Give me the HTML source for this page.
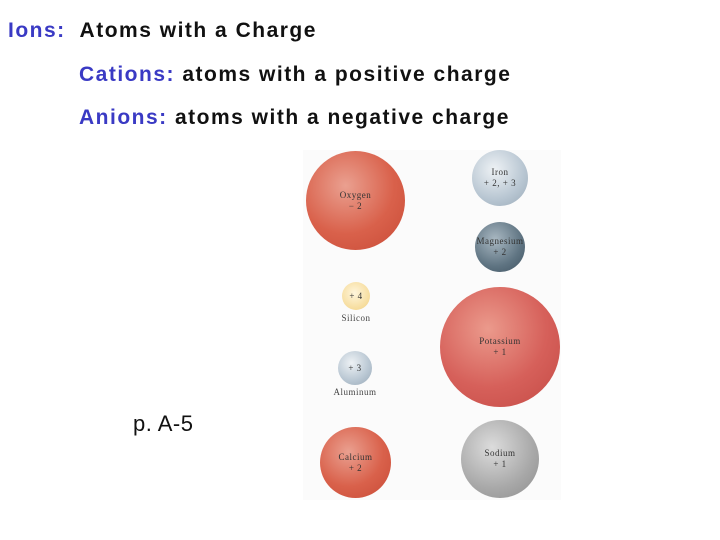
<!DOCTYPE html>
<html><head><meta charset="utf-8"><style>
body{margin:0;width:720px;height:540px;background:#fff;position:relative;overflow:hidden;font-family:"Liberation Sans",sans-serif}
.t{position:absolute;font-size:21px;font-weight:bold;color:#111;white-space:nowrap;line-height:24px;letter-spacing:1.5px}
.b{color:#3a3ac4}
.c{position:absolute;border-radius:50%;font-family:"Liberation Serif",serif;font-size:9px;color:#333;text-align:center;display:flex;flex-direction:column;justify-content:center;letter-spacing:0.5px;line-height:11px}
.lab{position:absolute;font-family:"Liberation Serif",serif;font-size:9px;color:#444;letter-spacing:0.5px;text-align:center;width:60px}
.red{background:radial-gradient(circle at 40% 35%,#eaa090,#d9614b 55%,#c84a36)}
.gr{background:radial-gradient(circle at 40% 35%,#eef2f5,#b8c6d2 60%,#98a8b6)}
</style></head><body>
<div class="t" style="left:8px;top:19px"><span class="b">Ions:</span>&nbsp; Atoms with a Charge</div>
<div class="t" style="left:79px;top:63px"><span class="b">Cations:</span> atoms with a positive charge</div>
<div class="t" style="left:79px;top:106px"><span class="b">Anions:</span> atoms with a negative charge</div>
<div style="position:absolute;left:133px;top:411px;font-size:22px;letter-spacing:0.5px;color:#111">p. A-5</div>
<div style="position:absolute;left:303px;top:150px;width:258px;height:350px;background:#fbfbfb"></div>
<div class="c red" style="left:306px;top:151px;width:99px;height:99px">Oxygen<br>− 2</div>
<div class="c gr" style="left:472px;top:150px;width:56px;height:56px">Iron<br>+ 2, + 3</div>
<div class="c" style="left:475px;top:222px;width:50px;height:50px;background:radial-gradient(circle at 40% 35%,#a9b8c2,#5f7482 60%,#3f5260)">Magnesium<br>+ 2</div>
<div class="c" style="left:342px;top:282px;width:28px;height:28px;background:radial-gradient(circle at 45% 40%,#fff6dc,#f6dc9c 70%,#e8c477)">+ 4</div>
<div class="lab" style="left:326px;top:313px">Silicon</div>
<div class="c gr" style="left:338px;top:351px;width:34px;height:34px">+ 3</div>
<div class="lab" style="left:325px;top:387px">Aluminum</div>
<div class="c red" style="left:440px;top:287px;width:120px;height:120px;background:radial-gradient(circle at 40% 35%,#eb9a8c,#d6605a 55%,#c44a45)">Potassium<br>+ 1</div>
<div class="c red" style="left:320px;top:427px;width:71px;height:71px">Calcium<br>+ 2</div>
<div class="c" style="left:461px;top:420px;width:78px;height:78px;background:radial-gradient(circle at 40% 35%,#dcdcdc,#a8a8a8 60%,#8c8c8c)">Sodium<br>+ 1</div>
</body></html>
